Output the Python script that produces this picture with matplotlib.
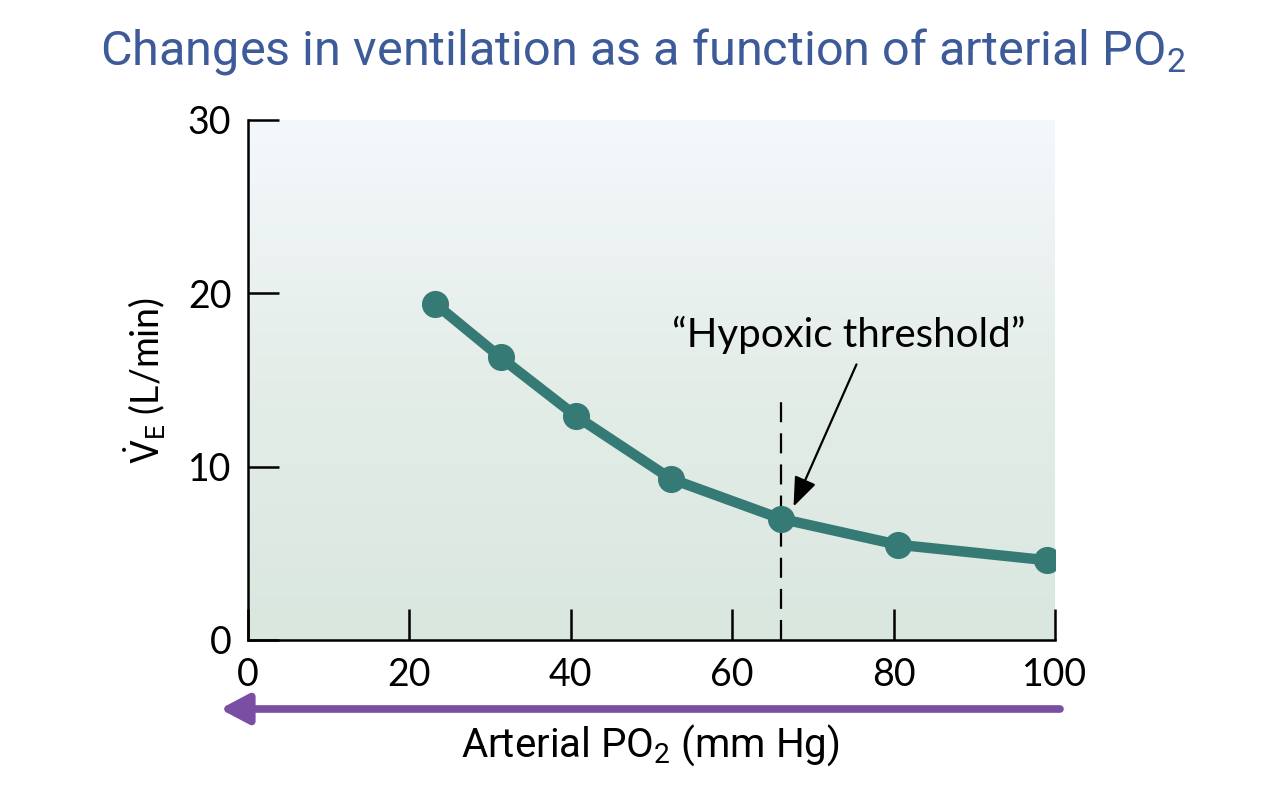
import numpy as np
import matplotlib
matplotlib.use("Agg")
import matplotlib.pyplot as plt
from matplotlib.colors import LinearSegmentedColormap

# Data
po2 = [23.2, 31.3, 40.7, 52.4, 66.0, 80.5, 99.0]
ventilation = [19.4, 16.3, 12.9, 9.3, 7.0, 5.5, 4.6]
x_ticks = [0, 20, 40, 60, 80, 100]
y_ticks = [0, 10, 20, 30]
threshold_x = 66.0
threshold_top = 13.8

plt.rcParams['mathtext.fontset'] = 'custom'
plt.rcParams['mathtext.rm'] = 'Roboto'
plt.rcParams['mathtext.it'] = 'Roboto:italic'

teal = '#357a74'
purple = '#7a4fa3'
title_blue = '#3d5a99'

fig = plt.figure(figsize=(12.8, 8), dpi=100)
ax = fig.add_axes([248 / 1280, 160 / 800, 807 / 1280, 520 / 800])

# background gradient
cmap = LinearSegmentedColormap.from_list('bg', ['#d9e7df', '#e4ede8', '#f4f8fc'])
grad = np.linspace(0, 1, 256).reshape(-1, 1)
ax.imshow(grad, cmap=cmap, origin='lower', aspect='auto',
          extent=[0, 100, 0, 30], zorder=0)

ax.plot(po2, ventilation, color=teal, lw=7.5, solid_joinstyle='round',
        solid_capstyle='round', zorder=3)
ax.plot(po2, ventilation, 'o', color=teal, ms=18.5, zorder=4)

# hypoxic threshold
ax.plot([threshold_x, threshold_x], [0, threshold_top], color='black',
        lw=1.6, dashes=(9, 5), zorder=2)
ax.text(74.5, 17.6, '\u201cHypoxic threshold\u201d', ha='center', va='center',
        fontsize=29, family='Lato')
ax.annotate('', xy=(67.6, 7.7), xytext=(75.4, 15.9),
            arrowprops=dict(arrowstyle='-|>,head_length=0.9,head_width=0.35',
                            color='black', lw=1.6, shrinkA=0, shrinkB=0,
                            mutation_scale=20))

ax.set_xlim(0, 100)
ax.set_ylim(0, 30)
ax.set_xticks(x_ticks)
ax.set_yticks(y_ticks)
for s in ['top', 'right']:
    ax.spines[s].set_visible(False)
for s in ['left', 'bottom']:
    ax.spines[s].set_linewidth(1.8)
ax.tick_params(direction='in', length=22, width=1.8, labelsize=27, pad=12)
for lab in ax.get_xticklabels() + ax.get_yticklabels():
    lab.set_family('Lato')

ax.set_ylabel(r'$\dot{\mathrm{V}}_\mathrm{E}$ (L/min)', fontsize=27,
              family='Lato', labelpad=14)

fig.text(0.508, 0.069, r'Arterial PO$_\mathrm{2}$ (mm Hg)', ha='center',
         va='center', fontsize=29, family='Roboto')

# purple arrow for decreasing PO2
fig.patches.append(matplotlib.patches.FancyArrowPatch(
    (1060 / 1280, 91 / 800), (220 / 1280, 91 / 800), transform=fig.transFigure,
    arrowstyle='-|>,head_length=0.85,head_width=0.45', color=purple, lw=5.5,
    mutation_scale=20, shrinkA=0, shrinkB=0))

fig.text(0.502, 0.936, r'Changes in ventilation as a function of arterial PO$_\mathrm{2}$',
         ha='center', va='center', fontsize=35, color=title_blue, family='Roboto')

fig.savefig('out.png', dpi=100)
